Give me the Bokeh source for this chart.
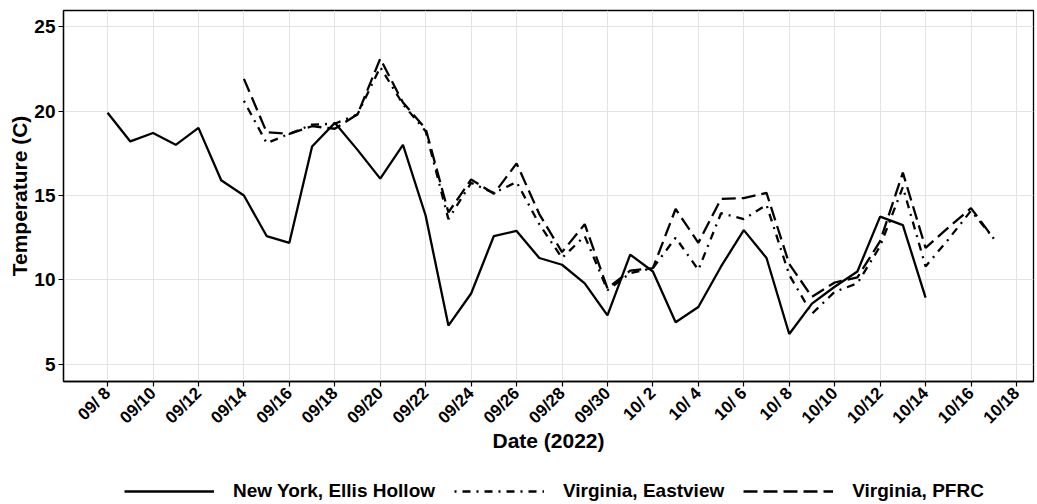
import math
import pandas as pd
from bokeh.plotting import figure
from bokeh.layouts import column
from bokeh.models import FixedTicker, Legend, LegendItem, ColumnDataSource
from bokeh.embed import file_html
from bokeh.resources import INLINE

# ---- data ----
ny_dates = pd.date_range("2022-09-08", "2022-10-14", freq="D")
ny_temp = [19.9, 18.2, 18.7, 18.0, 19.0, 15.9, 15.0, 12.6, 12.2, 17.9,
           19.3, 17.7, 16.0, 18.0, 13.8, 7.3, 9.2, 12.6, 12.9, 11.3,
           10.9, 9.8, 7.9, 11.5, 10.5, 7.5, 8.4, 10.8, 12.95, 11.3,
           6.8, 8.6, 9.6, 10.5, 13.75, 13.25, 8.95]

va_dates = pd.date_range("2022-09-14", "2022-10-17", freq="D")
eastview_temp = [20.6, 18.1, 18.65, 19.2, 19.25, 19.8, 22.6, 20.4, 18.8, 13.6,
                 15.75, 15.15, 15.8, 13.3, 11.3, 12.6, 9.4, 10.4, 10.7, 12.5,
                 10.6, 13.95, 13.6, 14.45, 10.3, 8.0, 9.3, 9.8, 12.0, 15.5,
                 10.8, 12.4, 14.1, 12.45]
pfrc_temp = [21.9, 18.75, 18.65, 19.1, 18.95, 19.8, 23.1, 20.5, 18.95, 14.0,
             15.95, 15.1, 16.9, 13.9, 11.65, 13.3, 9.5, 10.55, 10.7, 14.2,
             12.2, 14.8, 14.85, 15.15, 10.95, 9.0, 9.85, 10.15, 12.3, 16.35,
             11.9, 13.1, 14.25, 12.45]

series_names = ["New York, Ellis Hollow", "Virginia, Eastview", "Virginia, PFRC"]

tick_labels = ["09/ 8", "09/10", "09/12", "09/14", "09/16", "09/18", "09/20",
               "09/22", "09/24", "09/26", "09/28", "09/30", "10/ 2", "10/ 4",
               "10/ 6", "10/ 8", "10/10", "10/12", "10/14", "10/16", "10/18"]
y_ticks = [5, 10, 15, 20, 25]

origin = pd.Timestamp("2022-09-08")
def day_index(dates):
    return [(d - origin).days for d in dates]

FONT = "Liberation Sans"
DASHES = ["solid", "2 6 8 6", "14 6"]
LW = 2.3

sources = [
    ColumnDataSource(dict(x=day_index(ny_dates), y=ny_temp)),
    ColumnDataSource(dict(x=day_index(va_dates), y=eastview_temp)),
    ColumnDataSource(dict(x=day_index(va_dates), y=pfrc_temp)),
]

# ---------------- main plot ----------------
p = figure(width=1036, height=464, output_backend="svg", toolbar_location=None,
           x_range=(-1.94, 40.75), y_range=(3.99, 25.95),
           min_border_left=63, min_border_right=3, min_border_top=10,
           min_border_bottom=83)

p.background_fill_color = "white"
p.border_fill_color = "white"
p.outline_line_color = "black"
p.outline_line_width = 1.3

tick_pos = list(range(0, 41, 2))
p.xaxis.ticker = FixedTicker(ticks=tick_pos)
p.xaxis.major_label_overrides = {t: lab for t, lab in zip(tick_pos, tick_labels)}
p.yaxis.ticker = FixedTicker(ticks=y_ticks)

for ax in (p.xaxis[0], p.yaxis[0]):
    ax.axis_line_color = "black"
    ax.axis_line_width = 1.3
    ax.major_tick_line_color = "black"
    ax.major_tick_line_width = 1.2
    ax.major_tick_out = 5
    ax.major_tick_in = 0
    ax.minor_tick_line_color = None
    ax.major_label_text_font = FONT
    ax.major_label_text_font_style = "bold"
    ax.major_label_text_color = "black"
    ax.axis_label_text_font = FONT
    ax.axis_label_text_font_style = "bold"
    ax.axis_label_text_color = "black"
    ax.axis_label_text_font_size = "21px"

p.xaxis.major_label_text_font_size = "17px"
p.yaxis.major_label_text_font_size = "19px"
p.xaxis.major_label_orientation = math.pi / 4
p.xaxis.major_label_standoff = 4
p.yaxis.major_label_standoff = 3
p.xaxis.axis_label = "Date (2022)"
p.yaxis.axis_label = "Temperature (C)"
p.xaxis.axis_label_standoff = -8
p.yaxis.axis_label_standoff = 0

p.xgrid.grid_line_color = "#e3e3e3"
p.ygrid.grid_line_color = "#e3e3e3"
p.xgrid.grid_line_width = 1
p.ygrid.grid_line_width = 1

for src, dash in zip(sources, DASHES):
    p.line("x", "y", source=src, line_color="black", line_width=LW, line_dash=dash)

# ---------------- legend strip ----------------
# The same series are drawn here, but outside this strip's visible range,
# so only the legend keys show.
lg = figure(width=1036, height=38, output_backend="svg", toolbar_location=None,
            x_axis_location=None, y_axis_location=None,
            x_range=(1000, 1001), y_range=(1000, 1001),
            min_border=0, min_border_left=0, min_border_right=0,
            min_border_top=0, min_border_bottom=0)
lg.outline_line_color = None
lg.xgrid.visible = False
lg.ygrid.visible = False
lg.background_fill_color = "white"
lg.border_fill_color = "white"

items = []
for name, src, dash in zip(series_names, sources, DASHES):
    r = lg.line("x", "y", source=src, line_color="black", line_width=LW, line_dash=dash)
    items.append(LegendItem(label=name, renderers=[r]))

legend = Legend(items=items, orientation="horizontal", location=(61, 0))
legend.label_text_font = FONT
legend.label_text_font_style = "bold"
legend.label_text_font_size = "19px"
legend.label_text_color = "black"
legend.glyph_width = 90
legend.glyph_height = 20
legend.spacing = 19
legend.label_standoff = 19
legend.padding = 2
legend.margin = 0
legend.border_line_color = None
legend.background_fill_alpha = 0
lg.add_layout(legend, "center")

layout = column(p, lg, spacing=0)
open("out.html", "w").write(file_html(layout, INLINE))
